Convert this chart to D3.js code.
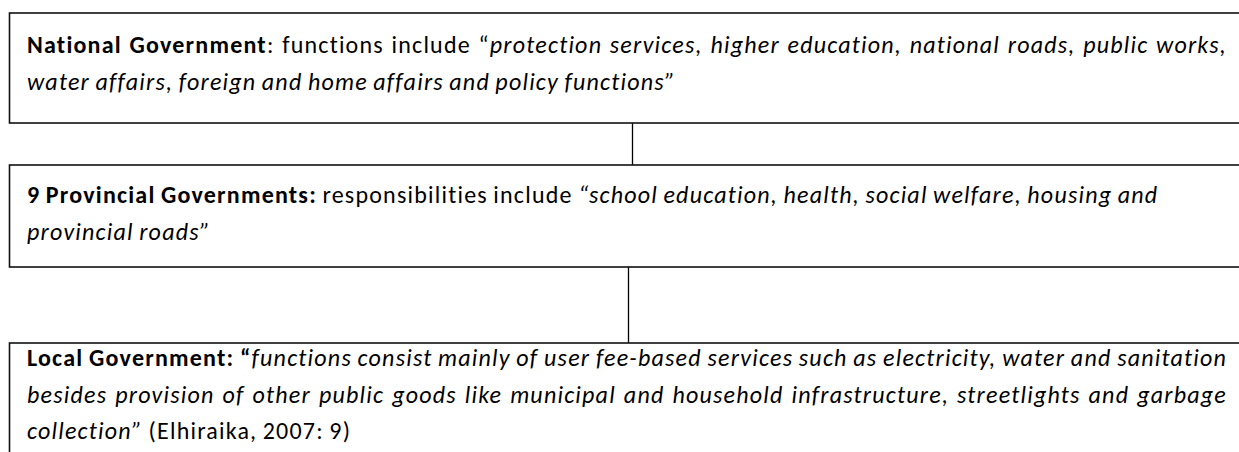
<!DOCTYPE html>
<html>
<head>
<meta charset="utf-8">
<script src="https://cdn.jsdelivr.net/npm/d3@7"></script>
<style>
  html, body { margin: 0; padding: 0; background: #fff; }
  svg { display: block; }
  text { font-family: Carlito, Calibri, Lato, "Open Sans", sans-serif; fill: #000; }
</style>
</head>
<body>
<svg id="chart"></svg>
<script>
// tiers of government, top to bottom
const tiers = ['National Government', '9 Provincial Governments', 'Local Government'];

// each line is a list of [style, text] pieces: b = bold, i = italic, n = normal
const nationalLines = [
  [['b', 'National Government'], ['n', ': functions include \u201c'], ['i', 'protection services, higher education, national roads, public works,']],
  [['i', 'water affairs, foreign and home affairs and policy functions\u201d']]
];
const provincialLines = [
  [['b', '9 Provincial Governments:'], ['n', ' responsibilities include '], ['i', '\u201cschool education, health, social welfare, housing and']],
  [['i', 'provincial roads\u201d']]
];
const localLines = [
  [['b', 'Local Government: \u201c'], ['i', 'functions consist mainly of user fee-based services such as electricity, water and sanitation']],
  [['i', 'besides provision of other public goods like municipal and household infrastructure, streetlights and garbage']],
  [['i', 'collection\u201d'], ['n', ' (Elhiraika, 2007: 9)']]
];
// which lines are justified to the full box width
const nationalJustify = [true, false];
const provincialJustify = [false, false];
const localJustify = [true, true, false];

const boxes = [
  {name: tiers[0], lines: nationalLines, justify: nationalJustify, top: 13, bottom: 123, first: 53},
  {name: tiers[1], lines: provincialLines, justify: provincialJustify, top: 165, bottom: 267, first: 203},
  {name: tiers[2], lines: localLines, justify: localJustify, top: 343, bottom: 470, first: 366}
];

const width = 1239, height = 452;
const boxLeft = 9.5, boxRight = 1255;
const textLeft = 27, textRight = 1227;
const lineGap = 36.5;
const fontSize = 24;
const fitWidth = 1131; // width of the unjustified provincial first line in the original
const connectorX = [632, 628];

const svg = d3.select('#chart').attr('width', width).attr('height', height);
svg.append('rect').attr('width', width).attr('height', height).attr('fill', '#fff');

// connectors between boxes
d3.pairs(boxes).forEach(([a, b], i) => {
  svg.append('line')
    .attr('x1', connectorX[i] + 0.5).attr('x2', connectorX[i] + 0.5)
    .attr('y1', a.bottom).attr('y2', b.top)
    .attr('stroke', '#000').attr('stroke-width', 1.3);
});

const g = svg.selectAll('g.box').data(boxes).enter().append('g').attr('class', 'box');

g.append('rect')
  .attr('x', boxLeft).attr('y', d => d.top)
  .attr('width', boxRight - boxLeft).attr('height', d => d.bottom - d.top)
  .attr('fill', 'none').attr('stroke', '#111').attr('stroke-width', 1.6);

function styleText(sel, s) {
  sel.style('font-weight', s === 'b' ? 'bold' : 'normal')
     .style('font-style', s === 'i' ? 'italic' : 'normal');
}

// split pieces into words; pieces not separated by a space belong to one word
function toWords(line) {
  const words = [];
  let cur = null;
  line.forEach(([s, t]) => {
    t.split(' ').forEach((p, k) => {
      if (k > 0) cur = null;
      if (p === '') return;
      if (!cur) { cur = []; words.push(cur); }
      cur.push([s, p]);
    });
  });
  return words;
}

function measureWord(w, ls) {
  const t = svg.append('text').attr('font-size', fontSize).attr('x', -2000).attr('y', -2000)
    .style('letter-spacing', ls + 'px');
  w.forEach(([s, txt]) => styleText(t.append('tspan').text(txt), s));
  const len = t.node().getComputedTextLength();
  t.remove();
  return len;
}

// space width, and letter spacing so glyph widths come close to the original face
const spaceW = measureWord([['n', 'a a']], 0) - measureWord([['n', 'aa']], 0);
const fitWords = toWords(provincialLines[0]);
const nChars = d3.sum(fitWords, w => d3.sum(w, p => p[1].length));
const natural = d3.sum(fitWords, w => measureWord(w, 0)) + spaceW * (fitWords.length - 1);
const letterSpacing = Math.max(0, (fitWidth - natural) / nChars);

g.each(function(box) {
  const bg = d3.select(this);
  box.lines.forEach((line, li) => {
    const y = box.first + li * lineGap;
    const words = toWords(line);
    const wordEls = words.map(w => {
      const t = bg.append('text').attr('font-size', fontSize).attr('y', y)
        .style('letter-spacing', letterSpacing + 'px');
      w.forEach(([s, txt]) => styleText(t.append('tspan').text(txt), s));
      return t;
    });
    const widths = wordEls.map(t => t.node().getComputedTextLength());
    const total = d3.sum(widths);
    let gap = spaceW;
    if (box.justify[li] && words.length > 1) gap = (textRight - textLeft - total) / (words.length - 1);
    let x = textLeft;
    wordEls.forEach((t, k) => {
      t.attr('x', x);
      x += widths[k] + gap;
    });
  });
});
</script>
</body>
</html>
